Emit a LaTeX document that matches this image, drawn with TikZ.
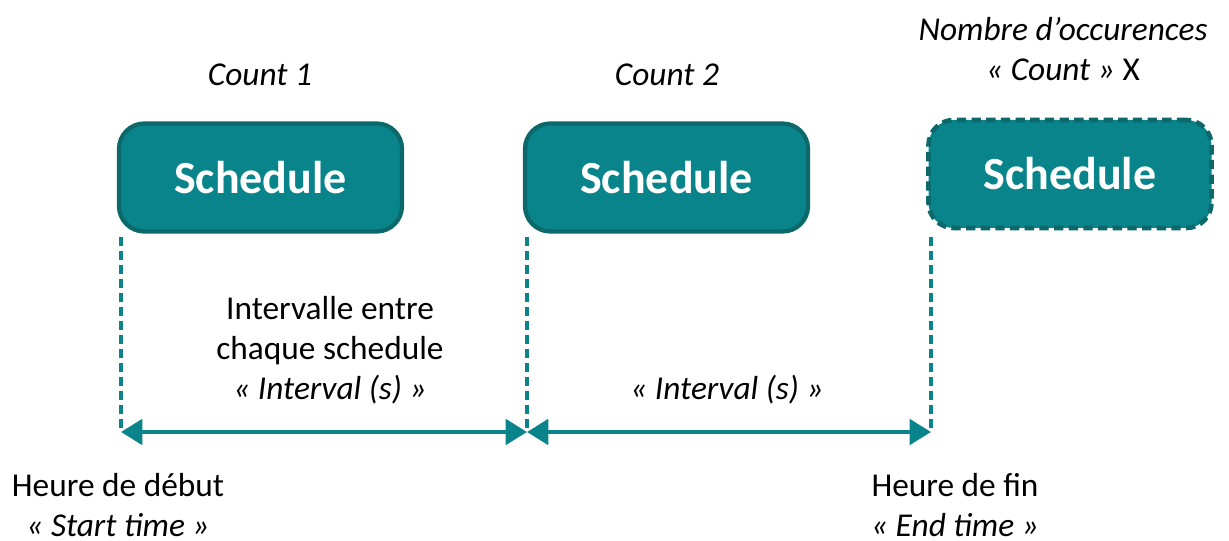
\documentclass[tikz,border=0pt]{standalone}
\usepackage{fontspec}
\setmainfont{Carlito}
\usetikzlibrary{arrows.meta}
\definecolor{tealfill}{RGB}{8,132,138}
\definecolor{tealedge}{RGB}{12,104,106}
\begin{document}
\begin{tikzpicture}[x=0.75pt,y=-0.75pt,
  sched/.style={draw=tealedge,fill=tealfill,line width=3.2pt,rounded corners=19pt,
    minimum width=283*0.75pt,minimum height=108*0.75pt,inner sep=0pt,
    text=white,font=\fontsize{34.5}{40}\selectfont\bfseries},
  lbl/.style={font=\fontsize{25}{30}\selectfont,align=center,inner sep=0pt},
  guide/.style={draw=tealfill,line width=3pt,dash pattern=on 6.5pt off 4pt},
  span/.style={draw=tealfill,line width=3pt,{Triangle[length=16pt,width=19pt]}-{Triangle[length=16pt,width=19pt]}}
]
\useasboundingbox (0,0) rectangle (1229,541);
\node[sched] (s1) at (260.5,177.5) {Schedule};
\node[sched] (s2) at (666.5,177.5) {Schedule};
\node[sched,dash pattern=on 7pt off 4pt,line width=3.5pt] (s3) at (1070,174) {Schedule};

\coordinate (b1) at (121,237);
\coordinate (b2) at (527,237);
\coordinate (b3) at (931,237);
\coordinate (t1) at (121,432);
\coordinate (t2) at (527,432);
\coordinate (t3) at (931,432);

\draw[guide] (b1) -- (t1);
\draw[guide] (b2) -- (t2);
\draw[guide] (b3) -- (t3);
\draw[span] (t1) -- (t2);
\draw[span] (t2) -- (t3);

\node[lbl] (c1) at (260,75) {\itshape Count 1};
\node[lbl] (c2) at (667,75) {\itshape Count 2};
\node[lbl] (c3) at (1063,49) {\itshape Nombre d’occurences\\{\itshape « Count »} X};
\node[lbl] (i1) at (330,350) {Intervalle entre\\chaque schedule\\{\itshape « Interval (s) »}};
\node[lbl] (i2) at (727,390) {\itshape « Interval (s) »};
\node[lbl] (h1) at (118,505) {Heure de début\\{\itshape « Start time »}};
\node[lbl] (h2) at (955,505) {Heure de fin\\{\itshape « End time »}};
\end{tikzpicture}
\end{document}
